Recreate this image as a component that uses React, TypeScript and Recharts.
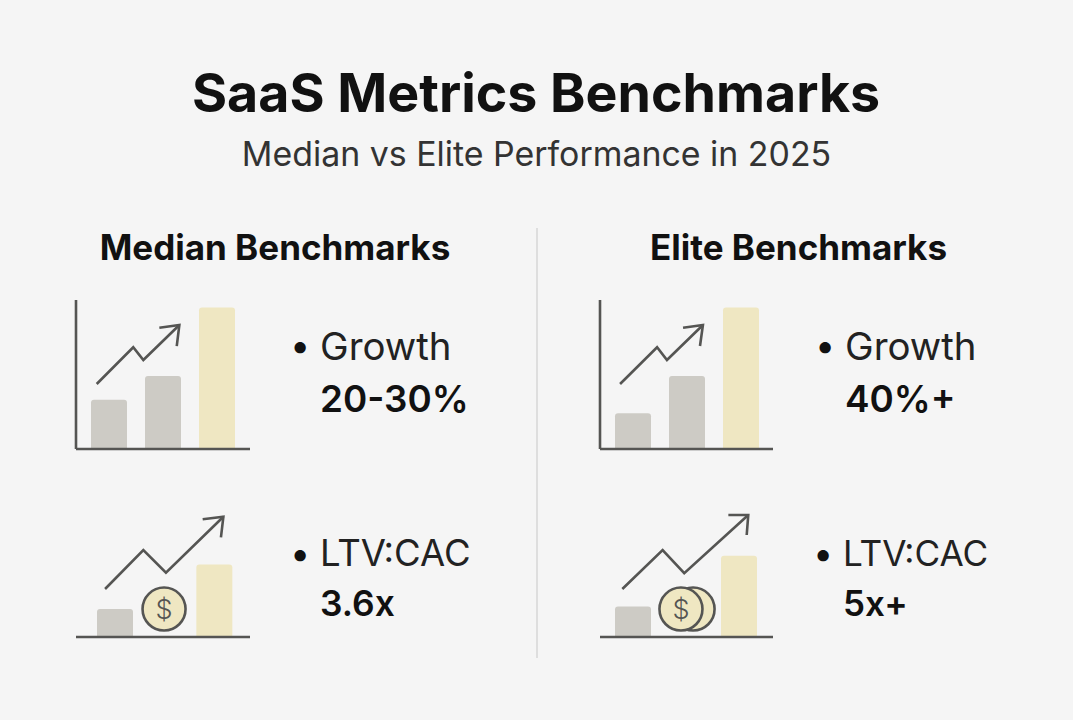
import React from "react";
import { BarChart, Bar, XAxis, YAxis, Cell, LineChart, Line } from "recharts";

const title = "SaaS Metrics Benchmarks";
const subtitle = "Median vs Elite Performance in 2025";
const medianHeading = "Median Benchmarks";
const eliteHeading = "Elite Benchmarks";

const medianGrowthBars = [
  { name: "a", value: 33, tone: "base" },
  { name: "b", value: 49, tone: "base" },
  { name: "c", value: 95, tone: "top" },
];
const eliteGrowthBars = [
  { name: "a", value: 24, tone: "base" },
  { name: "b", value: 49, tone: "base" },
  { name: "c", value: 95, tone: "top" },
];
const medianLtvBars = [
  { name: "a", value: 22, tone: "base" },
  { name: "b", value: null, tone: "base" },
  { name: "c", value: 57, tone: "top" },
];
const eliteLtvBars = [
  { name: "a", value: 24, tone: "base" },
  { name: "b", value: null, tone: "base" },
  { name: "c", value: 64, tone: "top" },
];

const medianGrowthTrend = [{ x: 11.9, y: 43.6 }, { x: 32.9, y: 68.3 }, { x: 38.7, y: 59.7 }, { x: 59.4, y: 83.2 }];
const medianGrowthHead = [{ x: 47.9, y: 81.4 }, { x: 59.4, y: 83.2 }, { x: 57.9, y: 69.1 }];
const eliteGrowthTrend = [{ x: 11.6, y: 43.6 }, { x: 33, y: 68.3 }, { x: 38.7, y: 59.7 }, { x: 59.5, y: 83.2 }];
const eliteGrowthHead = [{ x: 48, y: 81.4 }, { x: 59.5, y: 83.2 }, { x: 57.8, y: 69.1 }];
const medianLtvTrend = [{ x: 16.7, y: 37.8 }, { x: 38.7, y: 68.5 }, { x: 51.7, y: 50.6 }, { x: 84.7, y: 94.7 }];
const medianLtvHead = [{ x: 72.8, y: 92.7 }, { x: 84.7, y: 94.7 }, { x: 83.3, y: 78.5 }];
const eliteLtvTrend = [{ x: 12.9, y: 37.8 }, { x: 36.2, y: 68.5 }, { x: 48.7, y: 50.2 }, { x: 85.7, y: 96.1 }];
const eliteLtvHead = [{ x: 74.2, y: 96.1 }, { x: 85.7, y: 96.1 }, { x: 84.8, y: 80.3 }];
const medianCoins = [{ x: 50.6, y: 22, front: true }];
const eliteCoins = [{ x: 53.8, y: 22, front: false }, { x: 46.8, y: 22, front: true }];

const INK = "#555553";
const GREY = "#cdcbc5";
const YELLOW = "#efe7c2";
const PAD = 6;

const coinDot = (p: any) => {
  const { cx, cy, payload, index } = p;
  return (
    <g key={index}>
      <circle cx={cx} cy={cy} r={21.5} fill={YELLOW} stroke={INK} strokeWidth={2.6} />
      {payload.front ? (
        <text x={cx} y={cy + 9.5} textAnchor="middle" fontSize={27} fontFamily="Inter" fontWeight={300} fill={INK}>$</text>
      ) : null}
    </g>
  );
};

function Panel({ left, top, width, height, bars, trend, head, coins, vertical, padL, padR }: any) {
  const w = width + PAD * 2;
  const h = height + PAD * 2;
  const barMargin = { top: PAD, right: PAD, bottom: PAD - 1, left: PAD - 1 };
  const margin = { top: PAD, right: PAD, bottom: PAD, left: PAD };
  const box = { position: "absolute" as const, left: left - PAD, top: top - PAD };
  return (
    <>
      <div style={box}>
        <BarChart width={w} height={h} data={bars} margin={barMargin} barSize={36}>
          <XAxis dataKey="name" height={1} tick={false} tickLine={false} padding={{ left: padL, right: padR }}
            axisLine={{ stroke: INK, strokeWidth: 2.6 }} />
          <YAxis width={1} domain={[0, 100]} tick={false} tickLine={false}
            axisLine={vertical ? { stroke: INK, strokeWidth: 2.6 } : false} />
          <Bar dataKey="value" isAnimationActive={false} radius={[3, 3, 0, 0]}>
            {bars.map((b: any) => (
              <Cell key={b.name} fill={b.tone === "top" ? YELLOW : GREY} />
            ))}
          </Bar>
        </BarChart>
      </div>
      <div style={box}>
        <LineChart width={w} height={h} margin={margin}>
          <XAxis type="number" dataKey="x" domain={[0, 100]} hide height={0} />
          <YAxis type="number" dataKey="y" domain={[0, 100]} hide width={0} />
          <Line data={trend} dataKey="y" stroke={INK} strokeWidth={2.6} dot={false} isAnimationActive={false} strokeLinejoin="miter" />
          <Line data={head} dataKey="y" stroke={INK} strokeWidth={2.6} dot={false} isAnimationActive={false} strokeLinejoin="miter" />
          {coins ? (
            <Line data={coins} dataKey="y" stroke="none" dot={coinDot} isAnimationActive={false} />
          ) : null}
        </LineChart>
      </div>
    </>
  );
}

const FONT = "Inter, sans-serif";
const INKTEXT = "#111111";

export default function App() {
  return (
    <div style={{ position: "absolute", left: 0, top: 0, width: 1073, height: 720, background: "#f5f5f5", overflow: "hidden" }}>
      <svg width={1073} height={720} style={{ position: "absolute", left: 0, top: 0 }} fontFamily={FONT}>
        <text x={536} y={112} textAnchor="middle" fontSize={53.7} fontWeight={700} fill={INKTEXT}>{title}</text>
        <text x={536.5} y={166} textAnchor="middle" fontSize={33.9} fill="#333333">{subtitle}</text>
        <text x={275} y={260} textAnchor="middle" fontSize={35} fontWeight={700} fill={INKTEXT}>{medianHeading}</text>
        <text x={798.5} y={260} textAnchor="middle" fontSize={35} fontWeight={700} fill={INKTEXT}>{eliteHeading}</text>
        <line x1={537} x2={537} y1={228} y2={658} stroke="#d6d6d6" strokeWidth={1.5} />
        <text x={290} y={358} fontSize={36} fill={INKTEXT}>•</text>
        <text x={320} y={360} fontSize={38.4} fill="#222222">Growth</text>
        <text x={320} y={412} fontSize={36.8} fontWeight={600} fill={INKTEXT}>20-30%</text>
        <text x={815} y={358} fontSize={36} fill={INKTEXT}>•</text>
        <text x={845} y={360} fontSize={38.4} fill="#222222">Growth</text>
        <text x={845} y={412} fontSize={36.8} fontWeight={600} fill={INKTEXT}>40%+</text>
        <text x={290} y={566} fontSize={36} fill={INKTEXT}>•</text>
        <text x={320} y={566} fontSize={36.5} fill="#222222">LTV:CAC</text>
        <text x={320} y={616} fontSize={35.4} fontWeight={600} fill={INKTEXT}>3.6x</text>
        <text x={813} y={566} fontSize={36} fill={INKTEXT}>•</text>
        <text x={843} y={566} fontSize={35.2} fill="#222222">LTV:CAC</text>
        <text x={843} y={616} fontSize={35} fontWeight={600} fill={INKTEXT}>5x+</text>
      </svg>
      <Panel left={76} top={300} width={174} height={149} bars={medianGrowthBars} trend={medianGrowthTrend} head={medianGrowthHead} vertical padL={6} padR={6} />
      <Panel left={600} top={300} width={173} height={149} bars={eliteGrowthBars} trend={eliteGrowthTrend} head={eliteGrowthHead} vertical padL={6} padR={5} />
      <Panel left={76} top={510} width={174} height={127} bars={medianLtvBars} trend={medianLtvTrend} head={medianLtvHead} coins={medianCoins} padL={14} padR={11} />
      <Panel left={600} top={510} width={173} height={127} bars={eliteLtvBars} trend={eliteLtvTrend} head={eliteLtvHead} coins={eliteCoins} padL={6} padR={8} />
    </div>
  );
}
